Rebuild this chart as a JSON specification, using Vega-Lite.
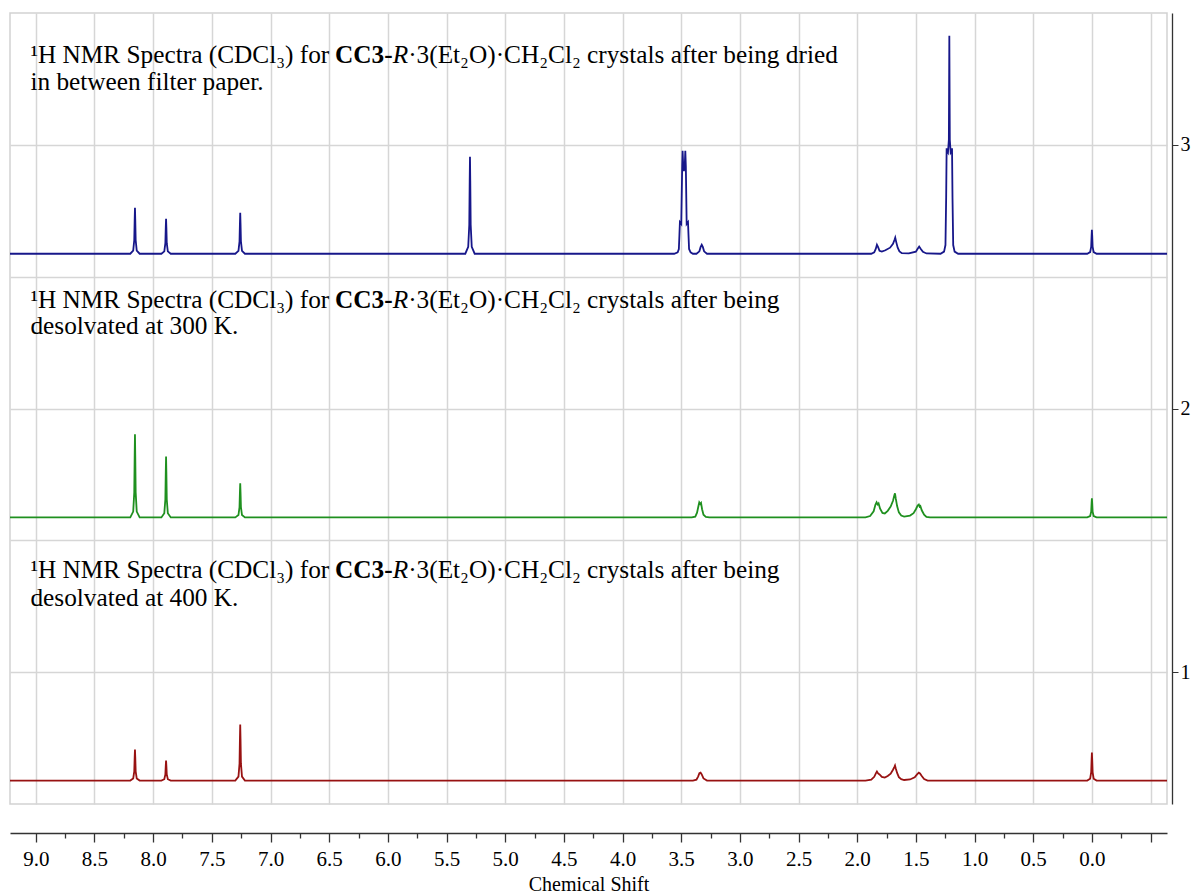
{
  "$schema": "https://vega.github.io/schema/vega-lite/v6.json",
  "width": 1157,
  "height": 791,
  "autosize": {"type": "none"},
  "padding": {"left": 10, "top": 13, "right": 27, "bottom": 90},
  "background": "white",
  "config": {"view": {"stroke": "#d2d2d2", "strokeWidth": 1.5}},
  "datasets": {
    "spectra": [
      {"sample": "dried", "ppm": 9.22, "value": 2.587},
      {"sample": "dried", "ppm": 8.195, "value": 2.587},
      {"sample": "dried", "ppm": 8.17, "value": 2.599},
      {"sample": "dried", "ppm": 8.161, "value": 2.639},
      {"sample": "dried", "ppm": 8.1575, "value": 2.717},
      {"sample": "dried", "ppm": 8.155, "value": 2.761},
      {"sample": "dried", "ppm": 8.1525, "value": 2.717},
      {"sample": "dried", "ppm": 8.149, "value": 2.639},
      {"sample": "dried", "ppm": 8.14, "value": 2.599},
      {"sample": "dried", "ppm": 8.115, "value": 2.587},
      {"sample": "dried", "ppm": 7.93, "value": 2.587},
      {"sample": "dried", "ppm": 7.905, "value": 2.596},
      {"sample": "dried", "ppm": 7.896, "value": 2.627},
      {"sample": "dried", "ppm": 7.8925, "value": 2.687},
      {"sample": "dried", "ppm": 7.89, "value": 2.72},
      {"sample": "dried", "ppm": 7.8875, "value": 2.687},
      {"sample": "dried", "ppm": 7.884, "value": 2.627},
      {"sample": "dried", "ppm": 7.875, "value": 2.596},
      {"sample": "dried", "ppm": 7.85, "value": 2.587},
      {"sample": "dried", "ppm": 7.3, "value": 2.587},
      {"sample": "dried", "ppm": 7.273, "value": 2.598},
      {"sample": "dried", "ppm": 7.264, "value": 2.634},
      {"sample": "dried", "ppm": 7.2605, "value": 2.703},
      {"sample": "dried", "ppm": 7.258, "value": 2.742},
      {"sample": "dried", "ppm": 7.2555, "value": 2.703},
      {"sample": "dried", "ppm": 7.252, "value": 2.634},
      {"sample": "dried", "ppm": 7.243, "value": 2.598},
      {"sample": "dried", "ppm": 7.218, "value": 2.587},
      {"sample": "dried", "ppm": 5.34, "value": 2.587},
      {"sample": "dried", "ppm": 5.315, "value": 2.613},
      {"sample": "dried", "ppm": 5.306, "value": 2.697},
      {"sample": "dried", "ppm": 5.3025, "value": 2.863},
      {"sample": "dried", "ppm": 5.3, "value": 2.955},
      {"sample": "dried", "ppm": 5.2975, "value": 2.863},
      {"sample": "dried", "ppm": 5.294, "value": 2.697},
      {"sample": "dried", "ppm": 5.285, "value": 2.613},
      {"sample": "dried", "ppm": 5.26, "value": 2.587},
      {"sample": "dried", "ppm": 3.56, "value": 2.587},
      {"sample": "dried", "ppm": 3.53, "value": 2.592},
      {"sample": "dried", "ppm": 3.52, "value": 2.605},
      {"sample": "dried", "ppm": 3.515, "value": 2.66},
      {"sample": "dried", "ppm": 3.511, "value": 2.707},
      {"sample": "dried", "ppm": 3.4995, "value": 2.70},
      {"sample": "dried", "ppm": 3.4915, "value": 2.92},
      {"sample": "dried", "ppm": 3.488, "value": 2.977},
      {"sample": "dried", "ppm": 3.4835, "value": 2.93},
      {"sample": "dried", "ppm": 3.4765, "value": 2.90},
      {"sample": "dried", "ppm": 3.469, "value": 2.93},
      {"sample": "dried", "ppm": 3.465, "value": 2.977},
      {"sample": "dried", "ppm": 3.4605, "value": 2.92},
      {"sample": "dried", "ppm": 3.4535, "value": 2.70},
      {"sample": "dried", "ppm": 3.442, "value": 2.707},
      {"sample": "dried", "ppm": 3.438, "value": 2.66},
      {"sample": "dried", "ppm": 3.433, "value": 2.605},
      {"sample": "dried", "ppm": 3.42, "value": 2.592},
      {"sample": "dried", "ppm": 3.4, "value": 2.587},
      {"sample": "dried", "ppm": 3.37, "value": 2.587},
      {"sample": "dried", "ppm": 3.345, "value": 2.596},
      {"sample": "dried", "ppm": 3.335, "value": 2.612},
      {"sample": "dried", "ppm": 3.325, "value": 2.621},
      {"sample": "dried", "ppm": 3.315, "value": 2.612},
      {"sample": "dried", "ppm": 3.305, "value": 2.596},
      {"sample": "dried", "ppm": 3.28, "value": 2.587},
      {"sample": "dried", "ppm": 1.88, "value": 2.587},
      {"sample": "dried", "ppm": 1.855, "value": 2.592},
      {"sample": "dried", "ppm": 1.842, "value": 2.605},
      {"sample": "dried", "ppm": 1.832, "value": 2.621},
      {"sample": "dried", "ppm": 1.822, "value": 2.612},
      {"sample": "dried", "ppm": 1.81, "value": 2.598},
      {"sample": "dried", "ppm": 1.79, "value": 2.595},
      {"sample": "dried", "ppm": 1.76, "value": 2.6},
      {"sample": "dried", "ppm": 1.72, "value": 2.61},
      {"sample": "dried", "ppm": 1.695, "value": 2.625},
      {"sample": "dried", "ppm": 1.682, "value": 2.64},
      {"sample": "dried", "ppm": 1.676, "value": 2.648},
      {"sample": "dried", "ppm": 1.668, "value": 2.632},
      {"sample": "dried", "ppm": 1.655, "value": 2.61},
      {"sample": "dried", "ppm": 1.64, "value": 2.596},
      {"sample": "dried", "ppm": 1.62, "value": 2.589},
      {"sample": "dried", "ppm": 1.56, "value": 2.588},
      {"sample": "dried", "ppm": 1.5, "value": 2.595},
      {"sample": "dried", "ppm": 1.485, "value": 2.606},
      {"sample": "dried", "ppm": 1.472, "value": 2.614},
      {"sample": "dried", "ppm": 1.458, "value": 2.605},
      {"sample": "dried", "ppm": 1.44, "value": 2.594},
      {"sample": "dried", "ppm": 1.41, "value": 2.588},
      {"sample": "dried", "ppm": 1.29, "value": 2.587},
      {"sample": "dried", "ppm": 1.26, "value": 2.595},
      {"sample": "dried", "ppm": 1.248, "value": 2.62},
      {"sample": "dried", "ppm": 1.242, "value": 2.8},
      {"sample": "dried", "ppm": 1.238, "value": 2.987},
      {"sample": "dried", "ppm": 1.2335, "value": 2.975},
      {"sample": "dried", "ppm": 1.2265, "value": 2.97},
      {"sample": "dried", "ppm": 1.219, "value": 3.02},
      {"sample": "dried", "ppm": 1.215, "value": 3.414},
      {"sample": "dried", "ppm": 1.211, "value": 3.02},
      {"sample": "dried", "ppm": 1.2035, "value": 2.97},
      {"sample": "dried", "ppm": 1.1965, "value": 2.975},
      {"sample": "dried", "ppm": 1.192, "value": 2.987},
      {"sample": "dried", "ppm": 1.188, "value": 2.8},
      {"sample": "dried", "ppm": 1.182, "value": 2.62},
      {"sample": "dried", "ppm": 1.17, "value": 2.595},
      {"sample": "dried", "ppm": 1.14, "value": 2.587},
      {"sample": "dried", "ppm": 0.04, "value": 2.587},
      {"sample": "dried", "ppm": 0.015, "value": 2.593},
      {"sample": "dried", "ppm": 0.006, "value": 2.614},
      {"sample": "dried", "ppm": 0.0025, "value": 2.655},
      {"sample": "dried", "ppm": 0.0, "value": 2.678},
      {"sample": "dried", "ppm": -0.0025, "value": 2.655},
      {"sample": "dried", "ppm": -0.006, "value": 2.614},
      {"sample": "dried", "ppm": -0.015, "value": 2.593},
      {"sample": "dried", "ppm": -0.04, "value": 2.587},
      {"sample": "dried", "ppm": -0.64, "value": 2.587},

      {"sample": "300 K", "ppm": 9.22, "value": 1.587},
      {"sample": "300 K", "ppm": 8.195, "value": 1.587},
      {"sample": "300 K", "ppm": 8.17, "value": 1.609},
      {"sample": "300 K", "ppm": 8.161, "value": 1.682},
      {"sample": "300 K", "ppm": 8.1575, "value": 1.823},
      {"sample": "300 K", "ppm": 8.155, "value": 1.902},
      {"sample": "300 K", "ppm": 8.1525, "value": 1.823},
      {"sample": "300 K", "ppm": 8.149, "value": 1.682},
      {"sample": "300 K", "ppm": 8.14, "value": 1.609},
      {"sample": "300 K", "ppm": 8.115, "value": 1.587},
      {"sample": "300 K", "ppm": 7.93, "value": 1.587},
      {"sample": "300 K", "ppm": 7.905, "value": 1.603},
      {"sample": "300 K", "ppm": 7.896, "value": 1.656},
      {"sample": "300 K", "ppm": 7.8925, "value": 1.76},
      {"sample": "300 K", "ppm": 7.89, "value": 1.818},
      {"sample": "300 K", "ppm": 7.8875, "value": 1.76},
      {"sample": "300 K", "ppm": 7.884, "value": 1.656},
      {"sample": "300 K", "ppm": 7.875, "value": 1.603},
      {"sample": "300 K", "ppm": 7.85, "value": 1.587},
      {"sample": "300 K", "ppm": 7.3, "value": 1.587},
      {"sample": "300 K", "ppm": 7.273, "value": 1.596},
      {"sample": "300 K", "ppm": 7.264, "value": 1.626},
      {"sample": "300 K", "ppm": 7.2605, "value": 1.684},
      {"sample": "300 K", "ppm": 7.258, "value": 1.716},
      {"sample": "300 K", "ppm": 7.2555, "value": 1.684},
      {"sample": "300 K", "ppm": 7.252, "value": 1.626},
      {"sample": "300 K", "ppm": 7.243, "value": 1.596},
      {"sample": "300 K", "ppm": 7.218, "value": 1.587},
      {"sample": "300 K", "ppm": 3.41, "value": 1.587},
      {"sample": "300 K", "ppm": 3.38, "value": 1.59},
      {"sample": "300 K", "ppm": 3.365, "value": 1.605},
      {"sample": "300 K", "ppm": 3.352, "value": 1.632},
      {"sample": "300 K", "ppm": 3.346, "value": 1.644},
      {"sample": "300 K", "ppm": 3.338, "value": 1.638},
      {"sample": "300 K", "ppm": 3.331, "value": 1.642},
      {"sample": "300 K", "ppm": 3.322, "value": 1.618},
      {"sample": "300 K", "ppm": 3.31, "value": 1.597},
      {"sample": "300 K", "ppm": 3.29, "value": 1.589},
      {"sample": "300 K", "ppm": 3.26, "value": 1.587},
      {"sample": "300 K", "ppm": 1.93, "value": 1.587},
      {"sample": "300 K", "ppm": 1.89, "value": 1.592},
      {"sample": "300 K", "ppm": 1.86, "value": 1.61},
      {"sample": "300 K", "ppm": 1.845, "value": 1.635},
      {"sample": "300 K", "ppm": 1.835, "value": 1.644},
      {"sample": "300 K", "ppm": 1.826, "value": 1.636},
      {"sample": "300 K", "ppm": 1.818, "value": 1.64},
      {"sample": "300 K", "ppm": 1.805, "value": 1.62},
      {"sample": "300 K", "ppm": 1.785, "value": 1.604},
      {"sample": "300 K", "ppm": 1.765, "value": 1.602},
      {"sample": "300 K", "ppm": 1.74, "value": 1.612},
      {"sample": "300 K", "ppm": 1.715, "value": 1.628},
      {"sample": "300 K", "ppm": 1.695, "value": 1.65},
      {"sample": "300 K", "ppm": 1.683, "value": 1.672},
      {"sample": "300 K", "ppm": 1.678, "value": 1.678},
      {"sample": "300 K", "ppm": 1.672, "value": 1.66},
      {"sample": "300 K", "ppm": 1.66, "value": 1.63},
      {"sample": "300 K", "ppm": 1.645, "value": 1.606},
      {"sample": "300 K", "ppm": 1.625, "value": 1.594},
      {"sample": "300 K", "ppm": 1.6, "value": 1.59},
      {"sample": "300 K", "ppm": 1.55, "value": 1.594},
      {"sample": "300 K", "ppm": 1.52, "value": 1.603},
      {"sample": "300 K", "ppm": 1.5, "value": 1.618},
      {"sample": "300 K", "ppm": 1.485, "value": 1.632},
      {"sample": "300 K", "ppm": 1.475, "value": 1.636},
      {"sample": "300 K", "ppm": 1.468, "value": 1.628},
      {"sample": "300 K", "ppm": 1.462, "value": 1.63},
      {"sample": "300 K", "ppm": 1.45, "value": 1.614},
      {"sample": "300 K", "ppm": 1.43, "value": 1.597},
      {"sample": "300 K", "ppm": 1.41, "value": 1.589},
      {"sample": "300 K", "ppm": 1.38, "value": 1.587},
      {"sample": "300 K", "ppm": 0.04, "value": 1.587},
      {"sample": "300 K", "ppm": 0.015, "value": 1.592},
      {"sample": "300 K", "ppm": 0.006, "value": 1.609},
      {"sample": "300 K", "ppm": 0.0025, "value": 1.641},
      {"sample": "300 K", "ppm": 0.0, "value": 1.659},
      {"sample": "300 K", "ppm": -0.0025, "value": 1.641},
      {"sample": "300 K", "ppm": -0.006, "value": 1.609},
      {"sample": "300 K", "ppm": -0.015, "value": 1.592},
      {"sample": "300 K", "ppm": -0.04, "value": 1.587},
      {"sample": "300 K", "ppm": -0.64, "value": 1.587},

      {"sample": "400 K", "ppm": 9.22, "value": 0.589},
      {"sample": "400 K", "ppm": 8.195, "value": 0.589},
      {"sample": "400 K", "ppm": 8.17, "value": 0.597},
      {"sample": "400 K", "ppm": 8.161, "value": 0.624},
      {"sample": "400 K", "ppm": 8.1575, "value": 0.678},
      {"sample": "400 K", "ppm": 8.155, "value": 0.707},
      {"sample": "400 K", "ppm": 8.1525, "value": 0.678},
      {"sample": "400 K", "ppm": 8.149, "value": 0.624},
      {"sample": "400 K", "ppm": 8.14, "value": 0.597},
      {"sample": "400 K", "ppm": 8.115, "value": 0.589},
      {"sample": "400 K", "ppm": 7.93, "value": 0.589},
      {"sample": "400 K", "ppm": 7.905, "value": 0.594},
      {"sample": "400 K", "ppm": 7.896, "value": 0.612},
      {"sample": "400 K", "ppm": 7.8925, "value": 0.646},
      {"sample": "400 K", "ppm": 7.89, "value": 0.665},
      {"sample": "400 K", "ppm": 7.8875, "value": 0.646},
      {"sample": "400 K", "ppm": 7.884, "value": 0.612},
      {"sample": "400 K", "ppm": 7.875, "value": 0.594},
      {"sample": "400 K", "ppm": 7.85, "value": 0.589},
      {"sample": "400 K", "ppm": 7.3, "value": 0.589},
      {"sample": "400 K", "ppm": 7.273, "value": 0.604},
      {"sample": "400 K", "ppm": 7.264, "value": 0.653},
      {"sample": "400 K", "ppm": 7.2605, "value": 0.748},
      {"sample": "400 K", "ppm": 7.258, "value": 0.801},
      {"sample": "400 K", "ppm": 7.2555, "value": 0.748},
      {"sample": "400 K", "ppm": 7.252, "value": 0.653},
      {"sample": "400 K", "ppm": 7.243, "value": 0.604},
      {"sample": "400 K", "ppm": 7.218, "value": 0.589},
      {"sample": "400 K", "ppm": 3.4, "value": 0.589},
      {"sample": "400 K", "ppm": 3.37, "value": 0.592},
      {"sample": "400 K", "ppm": 3.355, "value": 0.605},
      {"sample": "400 K", "ppm": 3.345, "value": 0.617},
      {"sample": "400 K", "ppm": 3.335, "value": 0.619},
      {"sample": "400 K", "ppm": 3.325, "value": 0.612},
      {"sample": "400 K", "ppm": 3.31, "value": 0.597},
      {"sample": "400 K", "ppm": 3.28, "value": 0.589},
      {"sample": "400 K", "ppm": 1.93, "value": 0.589},
      {"sample": "400 K", "ppm": 1.88, "value": 0.592},
      {"sample": "400 K", "ppm": 1.855, "value": 0.603},
      {"sample": "400 K", "ppm": 1.84, "value": 0.617},
      {"sample": "400 K", "ppm": 1.832, "value": 0.623},
      {"sample": "400 K", "ppm": 1.822, "value": 0.616},
      {"sample": "400 K", "ppm": 1.81, "value": 0.612},
      {"sample": "400 K", "ppm": 1.79, "value": 0.603},
      {"sample": "400 K", "ppm": 1.765, "value": 0.6},
      {"sample": "400 K", "ppm": 1.74, "value": 0.606},
      {"sample": "400 K", "ppm": 1.715, "value": 0.615},
      {"sample": "400 K", "ppm": 1.695, "value": 0.63},
      {"sample": "400 K", "ppm": 1.683, "value": 0.641},
      {"sample": "400 K", "ppm": 1.678, "value": 0.646},
      {"sample": "400 K", "ppm": 1.672, "value": 0.636},
      {"sample": "400 K", "ppm": 1.66, "value": 0.618},
      {"sample": "400 K", "ppm": 1.645, "value": 0.602},
      {"sample": "400 K", "ppm": 1.625, "value": 0.594},
      {"sample": "400 K", "ppm": 1.6, "value": 0.591},
      {"sample": "400 K", "ppm": 1.55, "value": 0.593},
      {"sample": "400 K", "ppm": 1.51, "value": 0.601},
      {"sample": "400 K", "ppm": 1.49, "value": 0.612},
      {"sample": "400 K", "ppm": 1.475, "value": 0.619},
      {"sample": "400 K", "ppm": 1.465, "value": 0.616},
      {"sample": "400 K", "ppm": 1.45, "value": 0.606},
      {"sample": "400 K", "ppm": 1.43, "value": 0.595},
      {"sample": "400 K", "ppm": 1.4, "value": 0.589},
      {"sample": "400 K", "ppm": 0.04, "value": 0.589},
      {"sample": "400 K", "ppm": 0.015, "value": 0.596},
      {"sample": "400 K", "ppm": 0.006, "value": 0.621},
      {"sample": "400 K", "ppm": 0.0025, "value": 0.669},
      {"sample": "400 K", "ppm": 0.0, "value": 0.695},
      {"sample": "400 K", "ppm": -0.0025, "value": 0.669},
      {"sample": "400 K", "ppm": -0.006, "value": 0.621},
      {"sample": "400 K", "ppm": -0.015, "value": 0.596},
      {"sample": "400 K", "ppm": -0.04, "value": 0.589},
      {"sample": "400 K", "ppm": -0.64, "value": 0.589}
    ],
    "notes": [
      {"part": "plain", "text": "¹H NMR Spectra (CDCl₃) for ", "ppm": 9.046, "value": 3.311},
      {"part": "name", "text": "CC3-", "ppm": 6.45, "value": 3.311},
      {"part": "stereo", "text": "R", "ppm": 5.959, "value": 3.311},
      {"part": "plain", "text": "·3(Et₂O)·CH₂Cl₂ crystals after being dried", "ppm": 5.827, "value": 3.311},
      {"part": "plain", "text": "in between filter paper.", "ppm": 9.046, "value": 3.209},
      {"part": "plain", "text": "¹H NMR Spectra (CDCl₃) for ", "ppm": 9.046, "value": 2.383},
      {"part": "name", "text": "CC3-", "ppm": 6.45, "value": 2.383},
      {"part": "stereo", "text": "R", "ppm": 5.959, "value": 2.383},
      {"part": "plain", "text": "·3(Et₂O)·CH₂Cl₂ crystals after being", "ppm": 5.827, "value": 2.383},
      {"part": "plain", "text": "desolvated at 300 K.", "ppm": 9.046, "value": 2.281},
      {"part": "plain", "text": "¹H NMR Spectra (CDCl₃) for ", "ppm": 9.046, "value": 1.356},
      {"part": "name", "text": "CC3-", "ppm": 6.45, "value": 1.356},
      {"part": "stereo", "text": "R", "ppm": 5.959, "value": 1.356},
      {"part": "plain", "text": "·3(Et₂O)·CH₂Cl₂ crystals after being", "ppm": 5.827, "value": 1.356},
      {"part": "plain", "text": "desolvated at 400 K.", "ppm": 9.046, "value": 1.25}
    ]
  },
  "encoding": {
    "x": {
      "field": "ppm",
      "type": "quantitative",
      "scale": {"domain": [-0.64, 9.22], "reverse": true, "nice": false, "zero": false},
      "axis": {
        "title": "Chemical Shift",
        "orient": "bottom",
        "offset": 29,
        "values": [9, 8.75, 8.5, 8.25, 8, 7.75, 7.5, 7.25, 7, 6.75, 6.5, 6.25, 6, 5.75, 5.5, 5.25, 5, 4.75, 4.5, 4.25, 4, 3.75, 3.5, 3.25, 3, 2.75, 2.5, 2.25, 2, 1.75, 1.5, 1.25, 1, 0.75, 0.5, 0.25, 0, -0.25, -0.5],
        "labelExpr": "datum.value >= 0 && abs(datum.value * 2 - round(datum.value * 2)) < 0.001 ? format(datum.value, '.1f') : ''",
        "labelFont": "Liberation Serif",
        "labelFontSize": 21,
        "labelColor": "#000000",
        "labelPadding": 6,
        "labelOverlap": false,
        "labelFlush": false,
        "tickSize": {"condition": {"test": "abs(datum.value * 2 - round(datum.value * 2)) < 0.001", "value": 9}, "value": 5},
        "tickColor": "#333333",
        "tickWidth": 1.3,
        "domainColor": "#333333",
        "domainWidth": 1.3,
        "grid": true,
        "gridColor": "#d6d6d6",
        "gridWidth": 1.5,
        "gridOpacity": {"condition": {"test": "abs(datum.value * 2 - round(datum.value * 2)) < 0.001", "value": 1}, "value": 0},
        "titleFont": "Liberation Serif",
        "titleFontSize": 20,
        "titleFontWeight": "normal",
        "titleColor": "#000000",
        "titlePadding": 5
      }
    },
    "y": {
      "field": "value",
      "type": "quantitative",
      "scale": {"domain": [0.5, 3.5], "nice": false, "zero": false},
      "axis": {
        "title": null,
        "orient": "right",
        "offset": 5,
        "values": [1, 1.5, 2, 2.5, 3],
        "labelExpr": "datum.value % 1 === 0 ? format(datum.value, 'd') : ''",
        "labelFont": "Liberation Serif",
        "labelFontSize": 20,
        "labelColor": "#000000",
        "labelPadding": 2,
        "tickSize": 6,
        "tickColor": "#333333",
        "tickOpacity": {"condition": {"test": "datum.value % 1 === 0", "value": 1}, "value": 0},
        "domainColor": "#333333",
        "domainWidth": 1.3,
        "grid": true,
        "gridColor": "#d6d6d6",
        "gridWidth": 1.5
      }
    }
  },
  "layer": [
    {
      "data": {"name": "spectra"},
      "mark": {"type": "line", "strokeWidth": 1.8, "strokeJoin": "miter"},
      "encoding": {
        "color": {
          "field": "sample",
          "type": "nominal",
          "scale": {"domain": ["dried", "300 K", "400 K"], "range": ["#17178a", "#1f901f", "#981212"]},
          "legend": null
        }
      }
    },
    {
      "data": {"name": "notes"},
      "transform": [{"filter": "datum.part === 'plain'"}],
      "mark": {"type": "text", "font": "Liberation Serif", "fontSize": 25.3, "align": "left", "baseline": "alphabetic", "color": "#000000"},
      "encoding": {"text": {"field": "text"}}
    },
    {
      "data": {"name": "notes"},
      "transform": [{"filter": "datum.part === 'name'"}],
      "mark": {"type": "text", "font": "Liberation Serif", "fontSize": 25.3, "fontWeight": "bold", "align": "left", "baseline": "alphabetic", "color": "#000000"},
      "encoding": {"text": {"field": "text"}}
    },
    {
      "data": {"name": "notes"},
      "transform": [{"filter": "datum.part === 'stereo'"}],
      "mark": {"type": "text", "font": "Liberation Serif", "fontSize": 25.3, "fontStyle": "italic", "align": "left", "baseline": "alphabetic", "color": "#000000"},
      "encoding": {"text": {"field": "text"}}
    }
  ]
}
